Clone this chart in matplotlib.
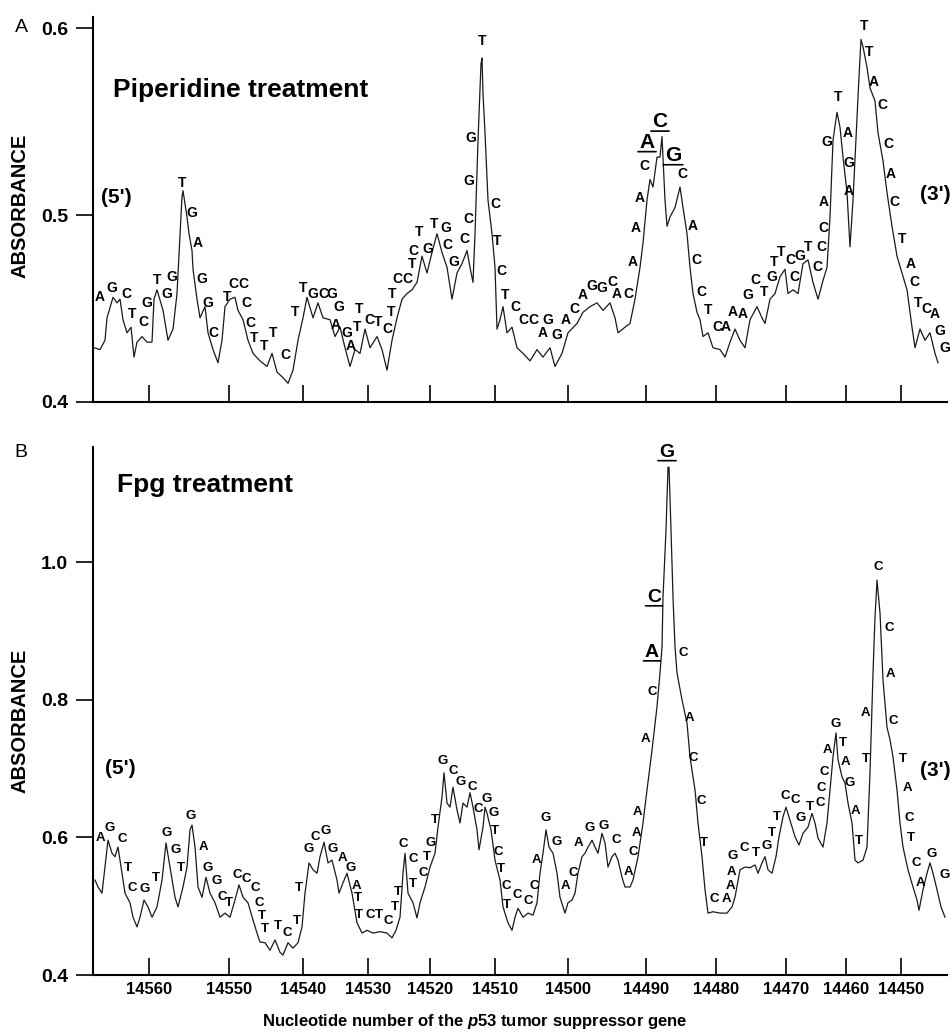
import matplotlib.pyplot as plt

plt.rcParams['font.family'] = ['Liberation Sans', 'DejaVu Sans']
plt.rcParams['mathtext.fontset'] = 'custom'
plt.rcParams['mathtext.it'] = 'Liberation Sans:italic:bold'
plt.rcParams['mathtext.rm'] = 'Liberation Sans:bold'

# sequence, 5' -> 3' (same in both panels)
seq = ("AGCTCGTGGTGAGGCTCCCCTTTCTTGCGGAGATTCTCTTCCTCTGTGCGCCGGTCTCTC"
       "CCAGGACAGGCACAAAC" "ACG" "CACCTCAAAGCTGTTCCGTCCCAGTAGATTACCACTACTCAGG")
highlight = [77, 78, 79]

# x axis: scan position, labelled with nucleotide numbers
tick_pos = [5.6, 13.6, 21.0, 27.5, 33.7, 40.2, 47.5, 55.3, 62.3, 69.3, 75.3, 80.8]
tick_nt = [14560, 14550, 14540, 14530, 14520, 14510, 14500, 14490, 14480, 14470, 14460, 14450]

# panel A, piperidine treatment
a_x = [0.1, 0.7, 1.2, 1.4, 2.0, 2.4, 2.7, 3.0, 3.4, 3.8, 4.1, 4.4, 4.9, 5.4, 5.9, 6.1, 6.4, 7.0, 7.5, 8.0,
       8.4, 8.9, 9.0, 9.4, 9.6, 9.9, 10.0, 10.4, 10.7, 11.2, 11.5, 12.0, 12.5, 12.9, 13.2, 13.7, 14.2, 14.5, 15.0, 15.5,
       16.0, 16.7, 17.4, 17.9, 18.4, 19.0, 19.5, 20.0, 20.5, 21.0, 21.4, 22.0, 22.5, 23.0, 23.7, 24.2, 24.7, 25.2, 25.7, 26.2,
       26.7, 27.2, 27.7, 28.4, 28.9, 29.4, 29.9, 30.4, 30.9, 31.4, 31.9, 32.4, 32.9, 33.4, 33.9, 34.4, 34.9, 35.4, 35.9, 36.4,
       36.9, 37.4, 37.7, 38.0, 38.2, 38.5, 38.8, 38.9, 39.0, 39.2, 39.5, 39.9, 40.2, 40.4, 40.7, 41.0, 41.4, 41.9, 42.4, 43.0,
       43.7, 44.4, 45.0, 45.7, 46.2, 46.9, 47.5, 48.4, 49.0, 49.7, 50.4, 51.0, 51.7, 52.2, 52.5, 53.2, 53.7, 54.2, 54.7, 55.0,
       55.4, 55.7, 56.0, 56.4, 56.7, 56.9, 57.2, 57.4, 57.7, 58.2, 58.7, 59.0, 59.4, 59.7, 60.0, 60.4, 60.7, 61.0, 61.5, 62.0,
       62.7, 63.2, 63.7, 64.2, 64.7, 65.2, 65.7, 66.4, 66.9, 67.2, 67.7, 68.2, 68.7, 69.2, 69.5, 70.0, 70.5, 71.0, 71.5, 72.0,
       72.5, 73.0, 73.4, 73.7, 74.0, 74.4, 74.7, 75.0, 75.4, 75.7, 76.0, 76.4, 76.6, 76.8, 77.0, 77.4, 77.7, 78.2, 78.5, 79.0,
       79.4, 79.9, 80.4, 80.9, 81.4, 81.9, 82.2, 82.7, 83.2, 83.7, 84.2, 84.5]
a_y = [0.429, 0.428, 0.433, 0.445, 0.456, 0.453, 0.455, 0.444, 0.437, 0.440, 0.424, 0.432, 0.435, 0.432, 0.432, 0.455, 0.460, 0.449, 0.433, 0.439,
       0.458, 0.510, 0.513, 0.499, 0.490, 0.481, 0.471, 0.455, 0.445, 0.451, 0.437, 0.428, 0.421, 0.433, 0.451, 0.455, 0.456, 0.449, 0.444, 0.433,
       0.426, 0.422, 0.419, 0.426, 0.416, 0.413, 0.410, 0.417, 0.433, 0.445, 0.456, 0.445, 0.453, 0.445, 0.444, 0.435, 0.440, 0.429, 0.419, 0.428,
       0.426, 0.439, 0.429, 0.435, 0.428, 0.417, 0.433, 0.445, 0.455, 0.458, 0.460, 0.464, 0.478, 0.469, 0.480, 0.490, 0.480, 0.472, 0.455, 0.469,
       0.474, 0.481, 0.472, 0.464, 0.490, 0.540, 0.581, 0.584, 0.565, 0.544, 0.508, 0.490, 0.472, 0.439, 0.444, 0.451, 0.437, 0.440, 0.429, 0.426,
       0.422, 0.428, 0.424, 0.429, 0.419, 0.426, 0.437, 0.442, 0.448, 0.451, 0.453, 0.449, 0.453, 0.445, 0.437, 0.440, 0.442, 0.455, 0.472, 0.485,
       0.508, 0.519, 0.515, 0.531, 0.531, 0.542, 0.508, 0.494, 0.499, 0.504, 0.515, 0.504, 0.490, 0.472, 0.458, 0.448, 0.444, 0.435, 0.437, 0.429,
       0.428, 0.424, 0.432, 0.439, 0.433, 0.429, 0.444, 0.451, 0.445, 0.442, 0.455, 0.458, 0.467, 0.471, 0.458, 0.460, 0.458, 0.474, 0.476, 0.464,
       0.455, 0.465, 0.472, 0.499, 0.540, 0.555, 0.547, 0.531, 0.512, 0.483, 0.508, 0.552, 0.574, 0.594, 0.590, 0.579, 0.568, 0.561, 0.544, 0.529,
       0.512, 0.494, 0.478, 0.469, 0.460, 0.440, 0.429, 0.439, 0.433, 0.437, 0.426, 0.421]
a_lx = [0.7, 1.9, 3.3, 3.9, 5.0, 5.4, 6.4, 7.4, 7.9, 8.9,
        9.9, 10.5, 10.9, 11.5, 12.0, 13.4, 14.0, 15.0, 15.3, 15.7,
        16.1, 17.1, 18.0, 19.2, 20.2, 21.0, 22.0, 23.0, 23.9, 24.6,
        24.3, 25.4, 25.8, 26.4, 26.6, 27.6, 28.5, 29.4, 29.8, 29.9,
        30.4, 31.4, 31.9, 32.0, 32.6, 33.5, 34.1, 35.3, 35.4, 36.1,
        37.1, 37.5, 37.6, 37.8, 38.9, 40.2, 40.4, 40.8, 41.2, 42.2,
        43.0, 44.0, 45.0, 45.5, 46.4, 47.3, 48.1, 49.0, 49.9, 50.9,
        51.9, 52.4, 53.5, 54.0, 54.3, 54.7, 55.1, 55.4, 56.7, 58.0,
        58.9, 60.0, 60.3, 60.8, 61.5, 62.4, 63.3, 64.0, 65.0, 65.5,
        66.2, 67.1, 67.9, 68.1, 68.8, 69.7, 70.1, 70.7, 71.5, 72.4,
        72.8, 73.0, 73.1, 73.4, 74.5, 75.5, 75.6, 75.6, 77.1, 77.6,
        78.1, 78.9, 79.5, 79.8, 80.1, 80.9, 81.8, 82.1, 82.5, 83.3,
        84.2, 84.7, 85.2]
a_ly = [0.456, 0.461, 0.458, 0.447, 0.443, 0.453, 0.465, 0.458, 0.467, 0.517,
        0.501, 0.485, 0.466, 0.453, 0.437, 0.456, 0.463, 0.463, 0.453, 0.442,
        0.434, 0.430, 0.437, 0.425, 0.448, 0.461, 0.458, 0.458, 0.458, 0.451,
        0.441, 0.437, 0.430, 0.440, 0.450, 0.444, 0.443, 0.439, 0.448, 0.458,
        0.466, 0.466, 0.474, 0.481, 0.491, 0.482, 0.495, 0.493, 0.484, 0.475,
        0.487, 0.498, 0.518, 0.541, 0.593, 0.506, 0.486, 0.470, 0.457, 0.451,
        0.444, 0.444, 0.437, 0.444, 0.436, 0.444, 0.450, 0.457, 0.462, 0.461,
        0.464, 0.458, 0.458, 0.475, 0.493, 0.509, 0.526, 0.539, 0.550, 0.532,
        0.522, 0.494, 0.476, 0.459, 0.449, 0.440, 0.440, 0.448, 0.447, 0.457,
        0.465, 0.459, 0.467, 0.475, 0.480, 0.476, 0.467, 0.478, 0.483, 0.472,
        0.483, 0.493, 0.507, 0.539, 0.563, 0.544, 0.528, 0.513, 0.601, 0.587,
        0.571, 0.559, 0.538, 0.522, 0.507, 0.487, 0.474, 0.464, 0.453, 0.450,
        0.447, 0.438, 0.429]

# panel B, Fpg treatment
b_x = [0.2, 0.5, 0.9, 1.2, 1.5, 1.9, 2.2, 2.5, 2.9, 3.2, 3.7, 4.0, 4.4, 4.7, 5.1, 5.5, 5.9, 6.4, 6.9, 7.3,
       7.7, 8.2, 8.5, 9.0, 9.4, 9.7, 9.9, 10.2, 10.5, 10.9, 11.3, 11.7, 12.2, 12.7, 13.2, 13.7, 14.2, 14.6, 15.0, 15.5,
       16.0, 16.4, 16.7, 17.2, 17.7, 18.2, 18.7, 19.0, 19.5, 20.0, 20.5, 20.9, 21.2, 21.6, 22.0, 22.4, 22.7, 23.1, 23.5, 23.9,
       24.4, 24.6, 25.0, 25.4, 25.9, 26.4, 26.9, 27.4, 28.0, 28.7, 29.4, 29.9, 30.3, 30.7, 31.0, 31.2, 31.5, 32.0, 32.4, 32.7,
       33.2, 33.7, 34.2, 34.5, 34.9, 35.1, 35.4, 35.7, 36.0, 36.4, 36.7, 37.0, 37.4, 37.7, 38.0, 38.4, 38.6, 39.0, 39.2, 39.4,
       39.8, 40.2, 40.7, 41.0, 41.5, 41.9, 42.2, 42.5, 43.0, 43.5, 44.0, 44.4, 44.7, 45.0, 45.3, 45.6, 46.0, 46.4, 46.7, 47.2,
       47.5, 47.9, 48.2, 48.5, 48.9, 49.2, 49.5, 49.9, 50.2, 50.5, 50.9, 51.2, 51.5, 51.9, 52.2, 52.5, 52.9, 53.2, 53.7, 54.0,
       54.5, 55.0, 55.4, 55.9, 56.4, 56.7, 56.9, 57.0, 57.3, 57.5, 57.6, 57.8, 58.0, 58.2, 58.4, 58.9, 59.4, 59.7, 60.2, 60.5,
       60.9, 61.2, 61.5, 62.0, 62.7, 63.4, 63.9, 64.2, 64.7, 65.2, 65.7, 66.2, 66.5, 66.9, 67.2, 67.5, 67.9, 68.3, 68.6, 69.0,
       69.3, 69.7, 70.2, 70.6, 71.0, 71.5, 71.9, 72.2, 72.5, 73.0, 73.4, 73.7, 74.0, 74.3, 74.5, 74.9, 75.2, 75.5, 75.9, 76.2,
       76.5, 77.0, 77.4, 77.7, 78.0, 78.2, 78.4, 78.7, 79.0, 79.4, 79.7, 80.0, 80.4, 80.7, 81.0, 81.5, 82.0, 82.4, 82.6, 83.0,
       83.4, 83.7, 84.0, 84.4, 84.8, 85.2]
b_y = [0.538, 0.528, 0.519, 0.557, 0.596, 0.577, 0.572, 0.586, 0.548, 0.519, 0.505, 0.484, 0.470, 0.484, 0.509, 0.499, 0.484, 0.499, 0.538, 0.592,
       0.557, 0.513, 0.499, 0.528, 0.557, 0.611, 0.618, 0.586, 0.528, 0.513, 0.542, 0.519, 0.505, 0.484, 0.490, 0.484, 0.509, 0.531, 0.513, 0.505,
       0.480, 0.461, 0.448, 0.447, 0.436, 0.451, 0.433, 0.429, 0.447, 0.439, 0.447, 0.470, 0.519, 0.563, 0.553, 0.548, 0.572, 0.593, 0.563, 0.567,
       0.538, 0.519, 0.534, 0.548, 0.519, 0.476, 0.461, 0.465, 0.461, 0.463, 0.461, 0.454, 0.465, 0.484, 0.548, 0.577, 0.519, 0.505, 0.483, 0.505,
       0.528, 0.557, 0.577, 0.615, 0.659, 0.694, 0.650, 0.644, 0.673, 0.640, 0.621, 0.650, 0.644, 0.665, 0.644, 0.611, 0.582, 0.615, 0.644, 0.635,
       0.611, 0.567, 0.538, 0.499, 0.476, 0.465, 0.484, 0.497, 0.484, 0.490, 0.487, 0.505, 0.548, 0.577, 0.611, 0.586, 0.577, 0.548, 0.513, 0.490,
       0.505, 0.509, 0.519, 0.548, 0.572, 0.577, 0.586, 0.596, 0.586, 0.577, 0.606, 0.592, 0.557, 0.572, 0.577, 0.567, 0.542, 0.528, 0.528, 0.538,
       0.572, 0.621, 0.669, 0.727, 0.790, 0.839, 0.877, 0.949, 1.047, 1.138, 1.138, 1.047, 0.949, 0.877, 0.839, 0.800, 0.766, 0.717, 0.669, 0.621,
       0.572, 0.524, 0.490, 0.492, 0.490, 0.490, 0.499, 0.513, 0.553, 0.557, 0.556, 0.560, 0.548, 0.563, 0.572, 0.553, 0.548, 0.572, 0.601, 0.630,
       0.644, 0.625, 0.601, 0.589, 0.606, 0.615, 0.635, 0.621, 0.599, 0.586, 0.621, 0.669, 0.717, 0.752, 0.713, 0.688, 0.679, 0.650, 0.621, 0.567,
       0.563, 0.567, 0.586, 0.694, 0.839, 0.920, 0.974, 0.926, 0.829, 0.760, 0.742, 0.717, 0.669, 0.621, 0.586, 0.553, 0.528, 0.509, 0.494, 0.524,
       0.548, 0.563, 0.548, 0.524, 0.499, 0.484]
b_lx = [0.7, 1.7, 2.9, 3.5, 3.9, 5.2, 6.3, 7.4, 8.3, 8.8,
        9.8, 11.0, 11.5, 12.4, 12.9, 13.6, 14.4, 15.3, 16.2, 16.6,
        16.9, 17.2, 18.5, 19.4, 20.4, 20.6, 21.6, 22.2, 23.3, 24.0,
        24.9, 25.8, 26.3, 26.5, 26.6, 27.7, 28.6, 29.5, 30.2, 30.5,
        31.0, 32.0, 32.0, 33.0, 33.4, 33.8, 34.2, 35.0, 36.0, 36.8,
        37.9, 38.5, 39.4, 40.1, 40.2, 40.5, 40.8, 41.3, 41.4, 42.4,
        43.5, 44.1, 44.3, 45.3, 46.4, 47.2, 48.0, 48.5, 49.7, 51.1,
        52.3, 53.5, 54.0, 54.3, 54.4, 55.2, 55.9, 55.9, 56.1, 57.4,
        59.0, 59.6, 60.0, 60.8, 61.1, 62.1, 63.3, 63.7, 63.8, 64.0,
        65.1, 66.3, 67.4, 67.9, 68.4, 69.2, 70.2, 70.8, 71.7, 72.7,
        72.8, 73.1, 73.4, 74.3, 75.0, 75.2, 75.7, 76.2, 76.6, 77.3,
        77.2, 78.5, 79.6, 79.7, 80.0, 81.0, 81.4, 81.6, 81.8, 82.3,
        82.7, 83.9, 85.2]
b_ly = [0.599, 0.614, 0.598, 0.556, 0.526, 0.525, 0.541, 0.606, 0.582, 0.556,
        0.631, 0.586, 0.556, 0.537, 0.513, 0.505, 0.545, 0.540, 0.526, 0.505,
        0.486, 0.467, 0.471, 0.461, 0.478, 0.526, 0.583, 0.601, 0.609, 0.583,
        0.570, 0.556, 0.529, 0.512, 0.487, 0.487, 0.487, 0.478, 0.499, 0.521,
        0.590, 0.569, 0.532, 0.548, 0.572, 0.592, 0.625, 0.711, 0.697, 0.681,
        0.673, 0.641, 0.656, 0.635, 0.609, 0.579, 0.554, 0.529, 0.502, 0.516,
        0.508, 0.529, 0.567, 0.628, 0.593, 0.529, 0.548, 0.592, 0.614, 0.617,
        0.596, 0.550, 0.579, 0.606, 0.637, 0.743, 0.811, 0.869, 0.949, 1.160,
        0.868, 0.774, 0.715, 0.653, 0.592, 0.510, 0.510, 0.529, 0.550, 0.573,
        0.585, 0.577, 0.588, 0.606, 0.630, 0.660, 0.654, 0.628, 0.644, 0.650,
        0.672, 0.695, 0.727, 0.765, 0.737, 0.710, 0.679, 0.638, 0.595, 0.714,
        0.781, 0.993, 0.904, 0.838, 0.769, 0.714, 0.672, 0.628, 0.599, 0.563,
        0.534, 0.576, 0.545]

fig = plt.figure(figsize=(9.51, 10.32), dpi=100)
ax_a = fig.add_axes([0.0978, 0.6105, 0.898, 0.3731])
ax_b = fig.add_axes([0.0978, 0.0552, 0.898, 0.5116])


def style(ax, ylim, yticks):
    ax.set_xlim(0, 85.4)
    ax.set_ylim(*ylim)
    for s in ['top', 'right']:
        ax.spines[s].set_visible(False)
    ax.spines['left'].set_linewidth(1.5)
    ax.spines['bottom'].set_linewidth(1.5)
    ax.set_xticks(tick_pos)
    ax.tick_params(axis='x', direction='in', length=12, width=1.2, pad=5)
    ax.set_yticks(yticks)
    ax.set_yticklabels([f'{v:.1f}' for v in yticks], fontsize=14, fontweight='bold')
    ax.tick_params(axis='y', direction='out', length=12, width=1.2, pad=6)


def letters(ax, lx, ly, size, big):
    for i, ch in enumerate(seq):
        if i in highlight:
            t = ax.text(lx[i], ly[i], ch, ha='center', va='center', fontsize=big,
                        fontweight='bold', clip_on=False)
            ax.annotate('', xy=(-0.1, 0.0), xycoords=t, xytext=(1.1, 0.0), textcoords=t,
                        arrowprops=dict(arrowstyle='-', lw=1.2, shrinkA=0, shrinkB=0))
        else:
            ax.text(lx[i], ly[i], ch, ha='center', va='center', fontsize=size,
                    fontweight='bold', clip_on=False)


style(ax_a, (0.4, 0.606), [0.4, 0.5, 0.6])
ax_a.set_xticklabels([])
ax_a.plot(a_x, a_y, color='#1a1a1a', lw=0.9)
letters(ax_a, a_lx, a_ly, 10, 15)
ax_a.text(0.023, 0.81, 'Piperidine treatment', transform=ax_a.transAxes,
          fontsize=19, fontweight='bold', va='center', ha='left')
ax_a.text(0.027, 0.532, "(5')", transform=ax_a.transAxes, fontsize=15, fontweight='bold', ha='center', va='center')
ax_a.text(0.986, 0.538, "(3')", transform=ax_a.transAxes, fontsize=15, fontweight='bold', ha='center', va='center')

style(ax_b, (0.4, 1.1674), [0.4, 0.6, 0.8, 1.0])
ax_b.set_xticklabels([str(n) for n in tick_nt], fontsize=12, fontweight='bold')
ax_b.plot(b_x, b_y, color='#1a1a1a', lw=0.9)
letters(ax_b, b_lx, b_ly, 9.5, 14)
ax_b.text(0.028, 0.928, 'Fpg treatment', transform=ax_b.transAxes,
          fontsize=19, fontweight='bold', va='center', ha='left')
ax_b.text(0.032, 0.392, "(5')", transform=ax_b.transAxes, fontsize=15, fontweight='bold', ha='center', va='center')
ax_b.text(0.986, 0.388, "(3')", transform=ax_b.transAxes, fontsize=15, fontweight='bold', ha='center', va='center')

fig.text(0.023, 0.973, 'A', fontsize=14, ha='center', va='center')
fig.text(0.022, 0.562, 'B', fontsize=14, ha='center', va='center')
fig.text(0.021, 0.801, 'ABSORBANCE', rotation=90, fontsize=14.5, fontweight='bold', ha='center', va='center')
fig.text(0.021, 0.302, 'ABSORBANCE', rotation=90, fontsize=14.5, fontweight='bold', ha='center', va='center')
fig.text(0.4995, 0.0097, r'Nucleotide number of the $\mathit{p53}$ tumor suppressor gene',
         fontsize=12, fontweight='bold', ha='center', va='center')

fig.savefig('out.png', dpi=100)
